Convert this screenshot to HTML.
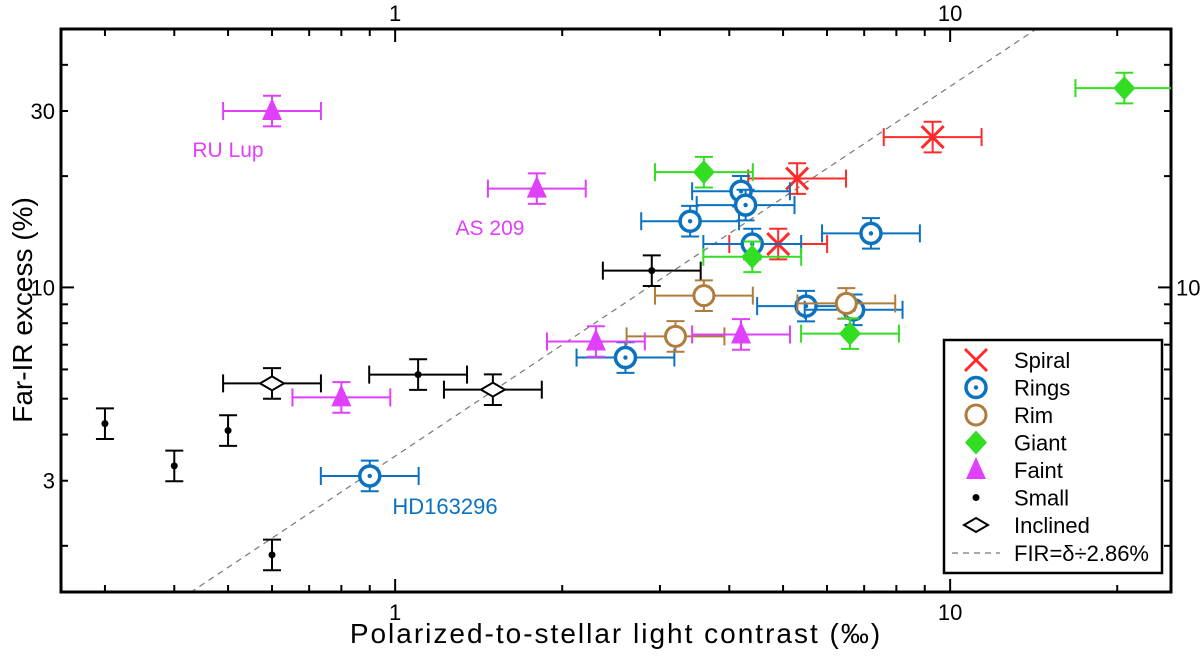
<!DOCTYPE html>
<html><head><meta charset="utf-8"><style>
html,body{margin:0;background:#fff;width:1200px;height:658px;overflow:hidden;}
svg{display:block;font-family:"Liberation Sans",sans-serif;}
</style></head><body>
<svg id="chart" width="1200" height="658"></svg>
<script>
// Data arrays (x: polarized contrast ‰, y: far-IR excess %)
const spiralX=[9.3,5.3,4.9], spiralY=[25.5,19.7,13.1];
const ringsX=[4.2,4.28,3.4,4.4,7.2,5.5,6.7,2.6,0.9], ringsY=[18.2,16.7,15.1,13.1,14.0,8.9,8.7,6.46,3.09];
const rimX=[3.6,6.5,3.2], rimY=[9.5,9.05,7.37];
const giantX=[20.6,3.6,4.4,6.6], giantY=[34.6,20.5,12.1,7.5];
const faintX=[0.6,1.8,2.3,4.2,0.8], faintY=[30,18.5,7.14,7.46,5.04];
const smallX=[2.9,1.1,0.3,0.4,0.5,0.6], smallY=[11.1,5.81,4.28,3.29,4.1,1.89];
const smallHasXErr=[true,true,false,false,false,false];
const inclX=[0.6,1.5], inclY=[5.5,5.29];
const xErrFactor=1.225, yErrFactor=1.1;
const fitFactor=2.86;
const xTickLabels=["1","10"], xTickVals=[1,10];
const yTickLabels=["3","10","30"], yTickVals=[3,10,30];

const L=61,R=1171,T=29,B=592;
const xmin=0.25,xmax=25,ymin=1.5,ymax=50;
const X=v=>L+(Math.log10(v)-Math.log10(xmin))/(Math.log10(xmax)-Math.log10(xmin))*(R-L);
const Y=v=>B-(Math.log10(v)-Math.log10(ymin))/(Math.log10(ymax)-Math.log10(ymin))*(B-T);
const svg=document.getElementById('chart');
const NS='http://www.w3.org/2000/svg';
function mk(tag,attrs,parent){const e=document.createElementNS(NS,tag);for(const k in attrs)e.setAttribute(k,attrs[k]);(parent||svg).appendChild(e);return e;}

const defs=mk('defs',{});const cp=mk('clipPath',{id:'clip'},defs);mk('rect',{x:L,y:T,width:R-L,height:B-T},cp);

const fitG=mk('g',{'clip-path':'url(#clip)'});


const fx1=0.2,fx2=30;
mk('line',{x1:X(fx1),y1:Y(fx1*10/fitFactor),x2:X(fx2),y2:Y(fx2*10/fitFactor),stroke:'#777','stroke-width':1.2,'stroke-dasharray':'6,5'},fitG);

const frame=mk('rect',{x:L,y:T,width:R-L,height:B-T,fill:'none',stroke:'#000','stroke-width':3});



const tg=mk('g',{stroke:'#000','stroke-width':2});


for(let d=-1;d<=1;d++)for(let m=1;m<10;m++){const v=m*Math.pow(10,d);if(v<xmin||v>xmax)continue;const len=m===1?13:7;const x=X(v);
 mk('line',{x1:x,y1:B,x2:x,y2:B-len},tg);mk('line',{x1:x,y1:T,x2:x,y2:T+len},tg);}
for(let d=0;d<=1;d++)for(let m=1;m<10;m++){const v=m*Math.pow(10,d);if(v<ymin||v>ymax)continue;const len=m===1?13:7;const y=Y(v);
 mk('line',{x1:L,y1:y,x2:L+len,y2:y},tg);mk('line',{x1:R,y1:y,x2:R-len,y2:y},tg);}
xTickLabels.forEach((t,i)=>{
 const a=mk('text',{x:X(xTickVals[i]),y:B+28,'text-anchor':'middle','font-size':22});a.textContent=t;
 
 const b=mk('text',{x:X(xTickVals[i]),y:T-8,'text-anchor':'middle','font-size':22});b.textContent=t;
 
});
yTickLabels.forEach((t,i)=>{
 const a=mk('text',{x:L-6,y:Y(yTickVals[i])+8,'text-anchor':'end','font-size':22});a.textContent=t;
 
});
const r10=mk('text',{x:R+5,y:Y(10)+8,'font-size':22});r10.textContent='10';


const xl=mk('text',{x:616,y:643,'text-anchor':'middle','font-size':28,'letter-spacing':2});xl.textContent='Polarized-to-stellar light contrast (‰)';

const yl=mk('text',{x:0,y:0,'text-anchor':'middle','font-size':28,transform:'translate(32,310) rotate(-90)'});yl.textContent='Far-IR excess (%)';


function errbar(g,x,y,col,hasX){
 const cx=X(x),cy=Y(y);const a={stroke:col,'stroke-width':2};
 const y1=Y(y*yErrFactor),y2=Y(y/yErrFactor);
 mk('line',Object.assign({x1:cx,y1:y1,x2:cx,y2:y2},a),g);
 mk('line',Object.assign({x1:cx-9,y1:y1,x2:cx+9,y2:y1},a),g);
 mk('line',Object.assign({x1:cx-9,y1:y2,x2:cx+9,y2:y2},a),g);
 if(hasX){const x1=X(x/xErrFactor),x2=X(x*xErrFactor);
  mk('line',Object.assign({x1:x1,y1:cy,x2:x2,y2:cy},a),g);
  mk('line',Object.assign({x1:x1,y1:cy-9,x2:x1,y2:cy+9},a),g);
  mk('line',Object.assign({x1:x2,y1:cy-9,x2:x2,y2:cy+9},a),g);}
}
function marker(g,type,cx,cy,col){
 if(type==='x'){mk('path',{d:`M${cx-11},${cy-11}L${cx+11},${cy+11}M${cx-11},${cy+11}L${cx+11},${cy-11}`,stroke:col,'stroke-width':3,fill:'none'},g);}
 else if(type==='ring'){mk('circle',{cx,cy,r:10,fill:'#fff',stroke:col,'stroke-width':3.5},g);mk('circle',{cx,cy,r:2.2,fill:col},g);}
 else if(type==='rim'){mk('circle',{cx,cy,r:10,fill:'#fff',stroke:col,'stroke-width':3},g);}
 else if(type==='diamond'){mk('path',{d:`M${cx},${cy-12}L${cx+11},${cy}L${cx},${cy+12}L${cx-11},${cy}Z`,fill:col},g);}
 else if(type==='tri'){mk('path',{d:`M${cx},${cy-13}L${cx+10},${cy+9}L${cx-10},${cy+9}Z`,fill:col},g);}
 else if(type==='dot'){mk('circle',{cx,cy,r:3.5,fill:col},g);}
 else if(type==='incl'){mk('path',{d:`M${cx},${cy-7}L${cx+12},${cy}L${cx},${cy+7}L${cx-12},${cy}Z`,fill:'#fff',stroke:col,'stroke-width':2},g);}
}
const series=[
 ['spiral',spiralX,spiralY,'x','#ff2a2a'],
 ['rings',ringsX,ringsY,'ring','#0a72c0'],
 ['rim',rimX,rimY,'rim','#b07c3c'],
 ['giant',giantX,giantY,'diamond','#33dd22'],
 ['faint',faintX,faintY,'tri','#e040fb'],
 ['small',smallX,smallY,'dot','#000'],
 ['inclined',inclX,inclY,'incl','#000']];
series.forEach(s=>{
 const g=mk('g',{'clip-path':'url(#clip)'});
 
 
 s[1].forEach((x,i)=>{
  const pg=mk('g',{},g);
  
  
  const hasX=s[0]==='small'?smallHasXErr[i]:true;
  errbar(pg,x,s[2][i],s[4],hasX);
  marker(pg,s[3],X(x),Y(s[2][i]),s[4]);
 });
});
[['RU Lup',228,157,'#e040fb','ru-lup-label',21],['AS 209',490,235,'#e040fb','as209-label',21],['HD163296',445,514,'#0a72c0','hd163296-label',22]].forEach(a=>{
 const t=mk('text',{x:a[1],y:a[2],'text-anchor':'middle','font-size':a[5],fill:a[3]});t.textContent=a[0];
 
});
const lg=mk('g',{});


mk('rect',{x:944,y:340,width:218,height:233,fill:'#fff',stroke:'#000','stroke-width':2.5},lg);
const legNames=['Spiral','Rings','Rim','Giant','Faint','Small','Inclined'];
series.forEach((s,i)=>{
 const y=360+i*27.5;
 const eg=mk('g',{},lg);
 
 
 marker(eg,s[3],976,y,s[4]);
 const t=mk('text',{x:1014,y:y+8,'font-size':22},eg);t.textContent=legNames[i];
});
const fe=mk('g',{},lg);


mk('line',{x1:952,y1:553,x2:1000,y2:553,stroke:'#777','stroke-width':1.2,'stroke-dasharray':'6,5'},fe);
const ft=mk('text',{x:1014,y:561,'font-size':22},fe);ft.textContent='FIR=δ÷2.86%';
</script>
</body></html>
